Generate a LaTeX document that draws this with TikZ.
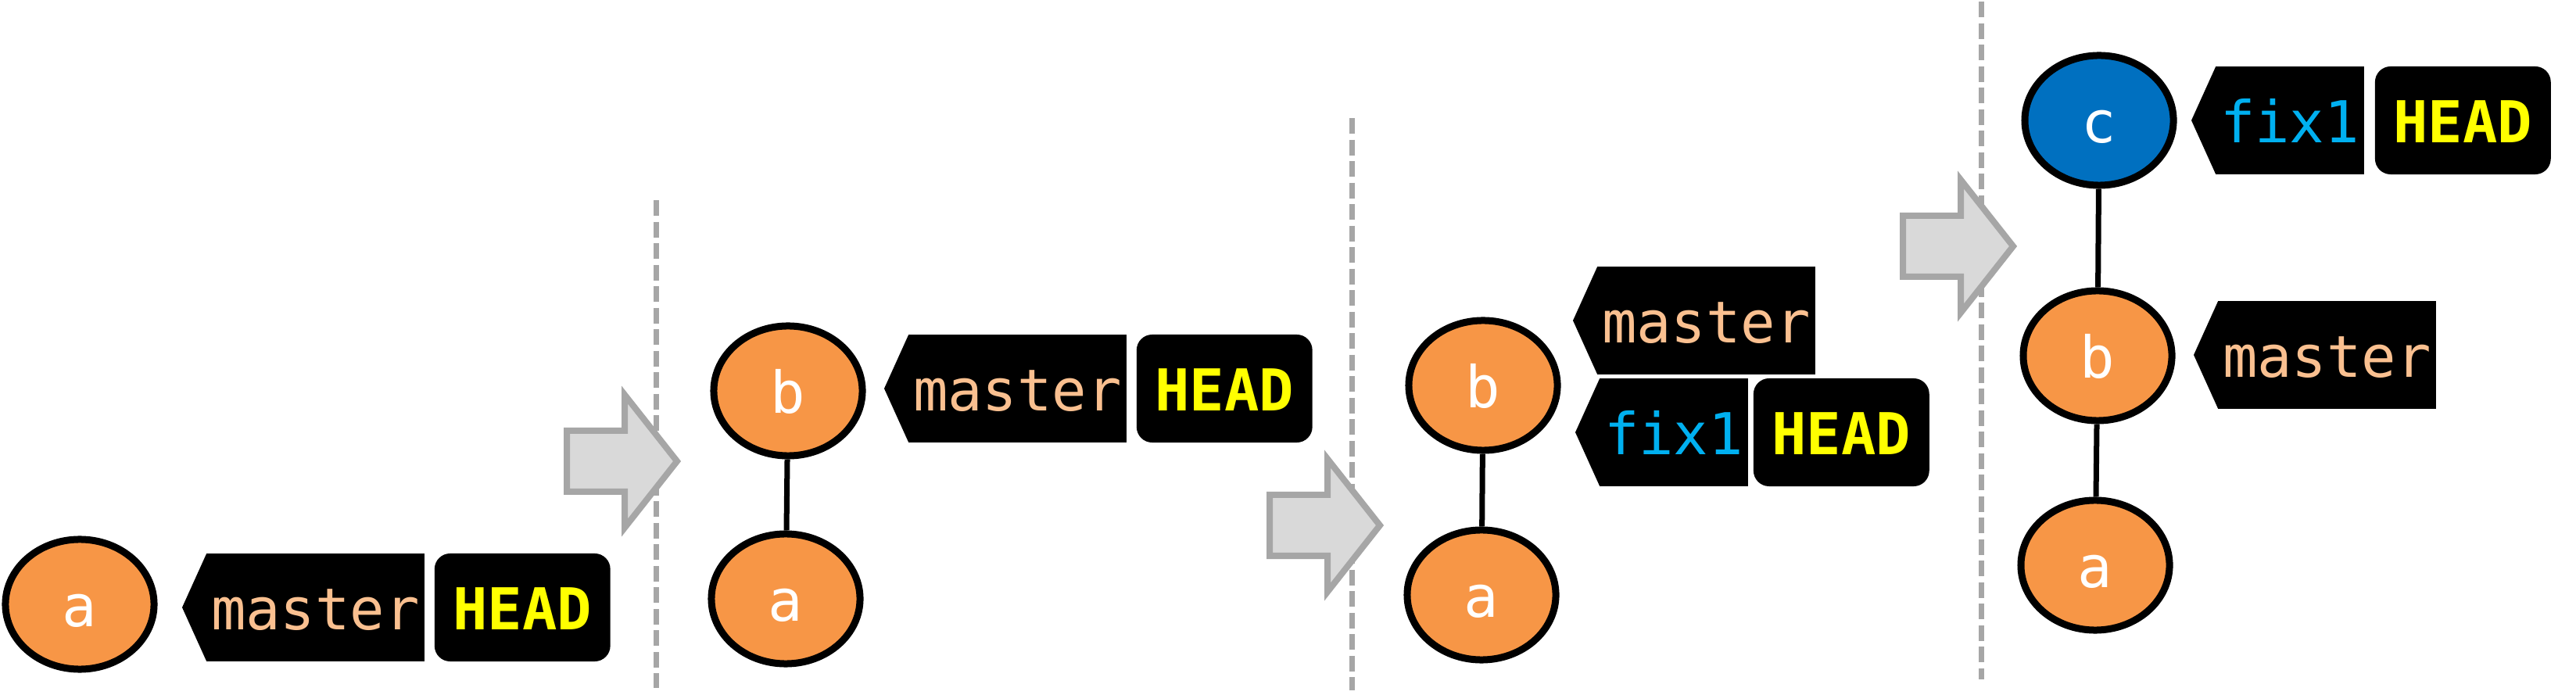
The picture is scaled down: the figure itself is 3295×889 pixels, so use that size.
\documentclass[tikz,border=0pt]{standalone}
\usepackage{fontspec}
\setmonofont{DejaVu Sans Mono}
\usetikzlibrary{positioning,shapes.geometric}

\definecolor{commitorange}{HTML}{F79646}
\definecolor{commitblue}{HTML}{0070C0}
\definecolor{mastertext}{HTML}{FAC090}
\definecolor{fixtext}{HTML}{00B0F0}
\definecolor{headtext}{HTML}{FFFF00}
\definecolor{sepgray}{HTML}{A6A6A6}
\definecolor{arrowfill}{HTML}{D9D9D9}

\newcommand{\lblfont}{\fontsize{21}{25}\selectfont\ttfamily}

\tikzset{
  commit/.style={ellipse, draw=black, line width=0.09cm, fill=commitorange,
    minimum width=1.90cm, minimum height=1.66cm, inner sep=0pt,
    text=white, font=\lblfont, text height=0.56cm, text depth=0cm},
  tag/.style={rectangle, fill=black, inner xsep=0.06cm, inner ysep=0pt,
    minimum height=1.37cm, outer sep=0pt, anchor=west,
    font=\lblfont, text height=0.56cm, text depth=0cm},
  headbox/.style={rectangle, rounded corners=0.2cm, fill=black,
    inner xsep=0.235cm, inner ysep=0pt, minimum height=1.38cm, outer sep=0pt,
    text=headtext, font=\lblfont\bfseries, text height=0.56cm, text depth=0cm},
  commitline/.style={line width=0.07cm},
  sepline/.style={draw=sepgray, line width=0.07cm, dash pattern=on 0.2cm off 0.075cm},
  steparrow/.pic={
    \draw[sepgray, fill=arrowfill, line width=0.08cm]
      (0,-39) -- (74,-39) -- (74,-85) -- (141,0) -- (74,85) -- (74,39) -- (0,39) -- cycle;
  }
}

\begin{document}
\begin{tikzpicture}[x=0.01cm, y=-0.01cm]
\useasboundingbox (0,0) rectangle (3295,889);

% separators
\draw[sepline] (839,256) -- (839,880);
\draw[sepline] (1729,151) -- (1729,883);
\draw[sepline] (2534,2) -- (2534,869);

% step arrows
\pic at (725,590) {steparrow};
\pic at (1624,672) {steparrow};
\pic at (2434,315) {steparrow};

% step 1
\node[commit] (a1) at (102,773) {a};
\node[tag, text=mastertext] (m1) at (264,777) {master};
\node[headbox, right=0.13cm of m1] (h1) {HEAD};

% step 2
\node[commit] (b2) at (1008,500) {b};
\node[commit] (a2) at (1005,766) {a};
\draw[commitline] (b2) -- (a2);
\node[tag, text=mastertext] (m2) at (1162,497) {master};
\node[headbox, right=0.13cm of m2] (h2) {HEAD};

% step 3
\node[commit] (b3) at (1897,493) {b};
\node[commit] (a3) at (1895,761) {a};
\draw[commitline] (b3) -- (a3);
\node[tag, text=mastertext] (m3) at (2043,410) {master};
\node[tag, text=fixtext] (f3) at (2046,553) {fix1};
\node[headbox, right=0.07cm of f3] (h3) {HEAD};

% step 4
\node[commit, fill=commitblue] (c4) at (2685,154) {c};
\node[commit] (b4) at (2683,455) {b};
\node[commit] (a4) at (2680,723) {a};
\draw[commitline] (c4) -- (b4);
\draw[commitline] (b4) -- (a4);
\node[tag, text=fixtext] (f4) at (2834,154) {fix1};
\node[headbox, right=0.14cm of f4] (h4) {HEAD};
\node[tag, text=mastertext] (m4) at (2837,454) {master};

% tag tips
\foreach \t in {m1,m2,m3,f3,f4,m4}
  \fill (\t.north west) -- ([xshift=-0.31cm]\t.west) -- (\t.south west) -- cycle;
\end{tikzpicture}
\end{document}
